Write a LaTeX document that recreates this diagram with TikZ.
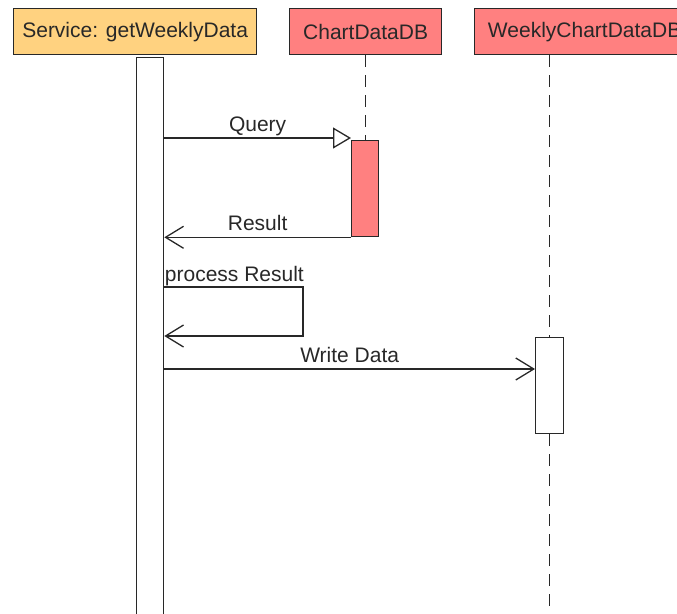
\documentclass[tikz,border=0pt]{standalone}
\usepackage{fontspec}
\setmainfont{Liberation Sans}
\usepackage{xcolor}
\definecolor{svcorange}{RGB}{255, 210, 128}
\definecolor{dbred}{RGB}{255, 128, 128}
\definecolor{ink}{RGB}{ 40,  40,  40}
\usepackage{tikz}
\usetikzlibrary{arrows.meta, positioning, calc}
\tikzset{
  headbox/.style={draw=ink, line width=1.3pt, anchor=north west,
    minimum height=46pt, inner sep=0pt, text=ink,
    font=\fontsize{21}{25}\selectfont},
  actbox/.style={draw=ink, line width=1.3pt, anchor=north west,
    minimum width=27pt, inner sep=0pt, fill=white},
  lifeline/.style={draw=ink, line width=1.2pt, dash pattern=on 12pt off 8pt},
  msglabel/.style={above, inner sep=1.5pt, text height=15pt, text depth=4.5pt,
    text=ink, font=\fontsize{21}{25}\selectfont},
  callarrow/.style={-{Triangle[open, length=18pt, width=21pt, fill=white]},
    line width=1.3pt, draw=ink},
  replyarrow/.style={-{Straight Barb[length=18pt, width=22pt]},
    line width=1.3pt, draw=ink}
}

\begin{document}
\begin{tikzpicture}[x=1pt, y=-1pt]

  \clip (0,0) rectangle (677,613);

  %% Participants
  \node[headbox, fill=svcorange, minimum width=243pt] (svc) at (13,8) {Service: getWeeklyData};
  \node[headbox, fill=dbred, minimum width=152pt] (cdb) at (289,8) {ChartDataDB};
  \node[headbox, fill=dbred, minimum width=220pt] (wkdb) at (474,8) {WeeklyChartDataDB};

  %% Activation bars
  \node[actbox, minimum height=580pt] (svcact) at (136,57) {};
  \node[actbox, fill=dbred, minimum height=96pt] (cdbact) at (351,140) {};
  \node[actbox, minimum width=28pt, minimum height=96pt] (wkact) at (535,337) {};

  %% Lifelines
  \coordinate (bottom) at (0,620);
  \draw[lifeline] (cdb.south -| cdbact.north) -- (cdbact.north);
  \draw[lifeline] (wkdb.south -| wkact.north) -- (wkact.north);
  \draw[lifeline] (wkact.south) -- (wkact.south |- bottom);

  %% Message levels
  \coordinate (tQuery) at (0,138);
  \coordinate (procTop) at (303,287);
  \coordinate (procBot) at (303,336);
  \coordinate (tWrite) at (0,369);

  %% Messages
  \draw[callarrow] (svcact.east |- tQuery) -- node[msglabel] {Query} (cdbact.west |- tQuery);
  \draw[replyarrow] (cdbact.south west) -- node[msglabel] {Result} (svcact.east |- cdbact.south);
  \draw[replyarrow] (svcact.east |- procTop)
      node[msglabel, anchor=south west, inner sep=0pt] {process Result}
      -- (procTop) -- (procBot) -- (svcact.east |- procBot);
  \draw[replyarrow] (svcact.east |- tWrite) -- node[msglabel] {Write Data} (wkact.west |- tWrite);

\end{tikzpicture}
\end{document}
